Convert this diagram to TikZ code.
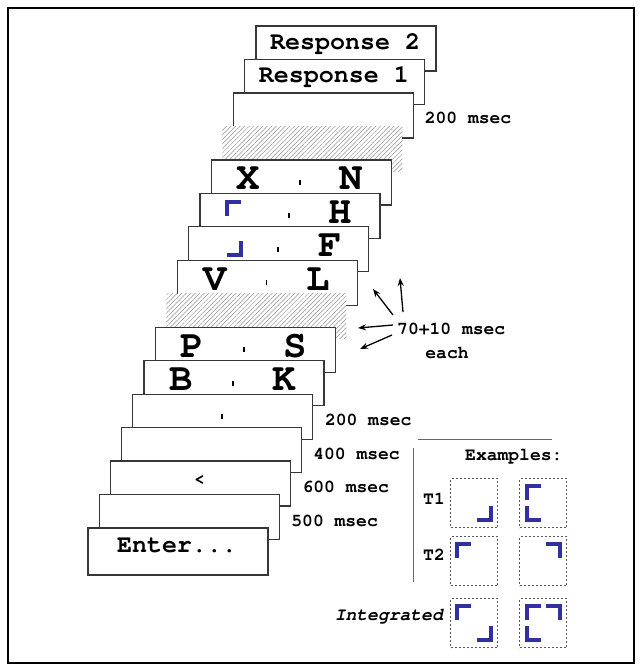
\documentclass[tikz,border=0pt]{standalone}
\usepackage{fontspec}
\setmainfont{TeX Gyre Cursor}
\usetikzlibrary{patterns.meta,arrows.meta}
\definecolor{cblue}{RGB}{48,48,160}
\definecolor{fgray}{RGB}{55,55,55}
\tikzset{
  frm/.style={draw=fgray,line width=1.3pt,fill=white,minimum width=180pt,minimum height=45pt,anchor=north west,inner sep=0pt,outer sep=0pt},
  hatchfrm/.style={minimum width=180pt,minimum height=45pt,anchor=north west,inner sep=0pt,outer sep=0pt,preaction={fill=white},pattern={Lines[angle=45,distance=3.2pt,line width=0.5pt]},pattern color=gray!85},
  big/.style={font=\fontsize{39}{41}\selectfont\bfseries,inner sep=0pt,anchor=base},
  resp/.style={font=\fontsize{25}{27}\selectfont\bfseries,inner sep=0pt,anchor=base},
  lbl/.style={font=\fontsize{18}{20}\selectfont\bfseries,inner sep=0pt,anchor=base west},
  tickmark/.style={line width=1.5pt,draw=black},
  crn/.style={draw=cblue,line width=3.6pt,line cap=butt,line join=miter},
  dbox/.style={draw=gray!70!black,line width=1pt,dash pattern=on 2pt off 2pt,minimum width=47pt,minimum height=49pt,anchor=north west,inner sep=0pt},
  arr/.style={line width=1.3pt,-{Stealth[length=8pt,width=6pt]}},
  pics/cTL/.style={code={\draw[crn] (14,0) -- (0,0) -- (0,14);}},
  pics/cTR/.style={code={\draw[crn] (-14,0) -- (0,0) -- (0,14);}},
  pics/cBL/.style={code={\draw[crn] (0,-14) -- (0,0) -- (14,0);}},
  pics/cBR/.style={code={\draw[crn] (0,-14) -- (0,0) -- (-14,0);}},
}
\begin{document}
\begin{tikzpicture}[x=1pt,y=-1pt]
\useasboundingbox (0,0) rectangle (642,665);
\fill[white] (0,0) rectangle (642,665);
\draw[line width=2.2pt] (8,8) rectangle (634,663);

% frames, back to front
\node[frm] (f0) at (256,26) {};
\node[resp] (r2) at ([shift={(89,23)}]f0.north west) {Response 2};
\node[frm] (f1) at (244.8,59.5) {};
\node[resp] (r1) at ([shift={(89,23)}]f1.north west) {Response 1};
\node[frm] (f2) at (233.6,92.9) {};
\node[lbl] (l2) at ([shift={(11,31)}]f2.north east) {200 msec};
\node[hatchfrm] (f3) at (222.4,126.4) {};
\node[frm] (f4) at (211.2,159.9) {};
\node[big] (x4) at ([shift={(37,30)}]f4.north west) {X};
\node[big] (n4) at ([shift={(140,30)}]f4.north west) {N};
\draw[tickmark] ([shift={(89,20)}]f4.north west) -- ([shift={(89,25)}]f4.north west);
\node[frm] (f5) at (200,193.4) {};
\pic at ([shift={(27,8.6)}]f5.north west) {cTL};
\node[big] (h5) at ([shift={(140,30)}]f5.north west) {H};
\draw[tickmark] ([shift={(89,20)}]f5.north west) -- ([shift={(89,25)}]f5.north west);
\node[frm] (f6) at (188.8,226.8) {};
\pic at ([shift={(52.2,28.2)}]f6.north west) {cBR};
\node[big] (ff6) at ([shift={(141,30)}]f6.north west) {F};
\draw[tickmark] ([shift={(89,20)}]f6.north west) -- ([shift={(89,25)}]f6.north west);
\node[frm] (f7) at (177.6,260.3) {};
\node[big] (v7) at ([shift={(38,30)}]f7.north west) {V};
\node[big] (ll7) at ([shift={(141,30)}]f7.north west) {L};
\draw[tickmark] ([shift={(89,20)}]f7.north west) -- ([shift={(89,25)}]f7.north west);
\node[hatchfrm] (f8) at (166.4,293.8) {};
\node[frm] (f9) at (155.2,327.2) {};
\node[big] (p9) at ([shift={(37,30)}]f9.north west) {P};
\node[big] (s9) at ([shift={(140,30)}]f9.north west) {S};
\draw[tickmark] ([shift={(89,20)}]f9.north west) -- ([shift={(89,25)}]f9.north west);
\node[frm] (f10) at (144,360.7) {};
\node[big] (b10) at ([shift={(37,30)}]f10.north west) {B};
\node[big] (k10) at ([shift={(140,30)}]f10.north west) {K};
\draw[tickmark] ([shift={(89,20)}]f10.north west) -- ([shift={(89,25)}]f10.north west);
\node[frm] (f11) at (132.8,394.2) {};
\draw[tickmark] ([shift={(89,20)}]f11.north west) -- ([shift={(89,25)}]f11.north west);
\node[lbl] (l11) at ([shift={(12,31.5)}]f11.north east) {200 msec};
\node[frm] (f12) at (121.6,427.6) {};
\node[lbl] (l12) at ([shift={(11.5,31.5)}]f12.north east) {400 msec};
\node[frm] (f13) at (110.4,461.1) {};
\node[font=\fontsize{18}{20}\selectfont\bfseries,inner sep=0pt] (lt13) at ([shift={(89,19)}]f13.north west) {<};
\node[lbl] (l13) at ([shift={(12,31.5)}]f13.north east) {600 msec};
\node[frm] (f14) at (99.2,494.6) {};
\node[lbl] (l14) at ([shift={(12,31.5)}]f14.north east) {500 msec};
\node[frm,minimum height=47pt] (f15) at (88,528) {};
\node[resp] (en) at ([shift={(89,24)}]f15.north west) {Enter...};

% arrows
\node[lbl] (t70) at (397,334) {70+10 msec};
\node[lbl,anchor=base] (teach) at (447,358) {each};
\coordinate (a1s) at (403,312); \coordinate (a1e) at (400,278);
\coordinate (a2s) at (393,315); \coordinate (a2e) at (373,289);
\coordinate (a3s) at (393,325); \coordinate (a3e) at (358,328);
\coordinate (a4s) at (392,335); \coordinate (a4e) at (360,349);
\draw[arr] (a1s) -- (a1e);
\draw[arr] (a2s) -- (a2e);
\draw[arr] (a3s) -- (a3e);
\draw[arr] (a4s) -- (a4e);

% examples panel
\coordinate (hl1) at (418,439); \coordinate (hl2) at (552,439);
\coordinate (vl1) at (413,448); \coordinate (vl2) at (413,582);
\draw[line width=1pt,draw=gray!80!black] (hl1) -- (hl2);
\draw[line width=1pt,draw=gray!80!black] (vl1) -- (vl2);
\node[lbl] (ex) at (465,460) {Examples:};
\node[lbl] (t1) at (423,504) {T1};
\node[lbl] (t2) at (423,560) {T2};
\node[lbl,anchor=base east,font=\fontsize{18}{20}\selectfont\bfseries\itshape] (intg) at (443,620) {Integrated};

\node[dbox] (e11) at (450,478) {};
\node[dbox] (e12) at (519,478) {};
\node[dbox] (e21) at (450,536) {};
\node[dbox] (e22) at (519,536) {};
\node[dbox] (e31) at (450,598) {};
\node[dbox] (e32) at (519,598) {};

\pic at ([shift={(-7,-8)}]e11.south east) {cBR};
\pic at ([shift={(8,8)}]e12.north west) {cTL};
\pic at ([shift={(8,-8)}]e12.south west) {cBL};
\pic at ([shift={(7,8)}]e21.north west) {cTL};
\pic at ([shift={(-7,8)}]e22.north east) {cTR};
\pic at ([shift={(7,8)}]e31.north west) {cTL};
\pic at ([shift={(-7,-8)}]e31.south east) {cBR};
\pic at ([shift={(8,8)}]e32.north west) {cTL};
\pic at ([shift={(-7,8)}]e32.north east) {cTR};
\pic at ([shift={(8,-8)}]e32.south west) {cBL};
\end{tikzpicture}
\end{document}
